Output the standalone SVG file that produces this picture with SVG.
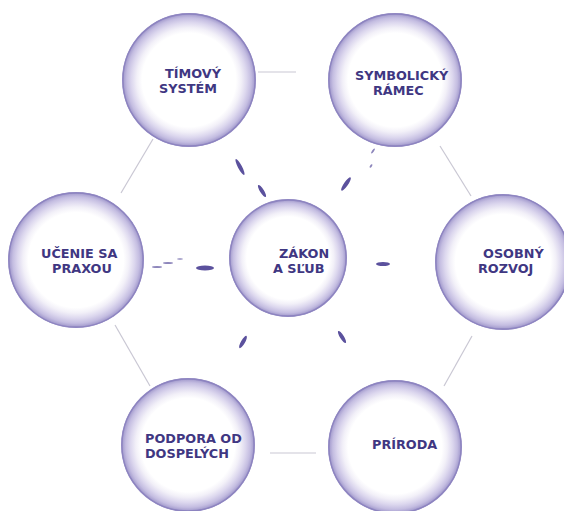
<svg xmlns="http://www.w3.org/2000/svg" width="564" height="511" viewBox="0 0 564 511">
<defs>
<radialGradient id="ring" cx="50%" cy="50%" r="50%">
<stop offset="0" stop-color="#ffffff"/>
<stop offset="0.7" stop-color="#ffffff"/>
<stop offset="0.78" stop-color="#f2f0f8"/>
<stop offset="0.86" stop-color="#dcd7ee"/>
<stop offset="0.93" stop-color="#c4bde1"/>
<stop offset="0.975" stop-color="#a8a0d0"/>
<stop offset="1" stop-color="#968dc5"/>
</radialGradient>
<style>
.ring{fill:url(#ring)}
.edge{fill:none;stroke:#8d84c0;stroke-width:1.3}
.lbl{font-family:"DejaVu Sans","Verdana",sans-serif;font-weight:bold;font-size:12.8px;fill:#3f3782}
.link{stroke:#c9c7d3;stroke-width:1.2;fill:none}
.dash{fill:#5b519d}
.spk{fill:#8d86bb}
</style>
</defs>
<rect width="564" height="511" fill="#ffffff"/>
<g id="connectors">
<line class="link" x1="258" y1="72" x2="296" y2="72"/>
<line class="link" x1="440" y1="146" x2="471" y2="196"/>
<line class="link" x1="472" y1="336" x2="444" y2="386"/>
<line class="link" x1="270" y1="453" x2="316" y2="453"/>
<line class="link" x1="115" y1="325" x2="150" y2="386"/>
<line class="link" x1="121" y1="193" x2="153" y2="139"/>
<ellipse class="dash" cx="240" cy="167" rx="2" ry="9" transform="rotate(-28 240 167)"/>
<ellipse class="dash" cx="262" cy="191" rx="2" ry="7" transform="rotate(-32 262 191)"/>
<ellipse class="dash" cx="346" cy="184" rx="2" ry="8" transform="rotate(35 346 184)"/>
<ellipse class="spk" cx="373" cy="151" rx="1" ry="3" transform="rotate(35 373 151)"/>
<ellipse class="spk" cx="371" cy="166" rx="1" ry="2" transform="rotate(35 371 166)"/>
<ellipse class="dash" cx="205" cy="268" rx="9" ry="2.5"/>
<ellipse class="spk" cx="168" cy="263" rx="5" ry="1"/>
<ellipse class="spk" cx="157" cy="267" rx="5" ry="1"/>
<ellipse class="spk" cx="180" cy="259" rx="3" ry="0.8"/>
<ellipse class="dash" cx="383" cy="264" rx="7" ry="2"/>
<ellipse class="dash" cx="243" cy="342" rx="2" ry="7" transform="rotate(30 243 342)"/>
<ellipse class="dash" cx="342" cy="337" rx="2" ry="7" transform="rotate(-32 342 337)"/>
</g>
<g id="node-timovy">
<circle class="ring" cx="189" cy="80" r="67"/>
<circle class="edge" cx="189" cy="80" r="66"/>
<text class="lbl" x="165" y="78">TÍMOVÝ</text>
<text class="lbl" x="159" y="93">SYSTÉM</text>
</g>
<g id="node-symbolicky">
<circle class="ring" cx="395" cy="80" r="67"/>
<circle class="edge" cx="395" cy="80" r="66"/>
<text class="lbl" x="355" y="80">SYMBOLICKÝ</text>
<text class="lbl" x="373" y="95">RÁMEC</text>
</g>
<g id="node-ucenie">
<circle class="ring" cx="76" cy="260" r="68"/>
<circle class="edge" cx="76" cy="260" r="67"/>
<text class="lbl" x="41" y="258">UČENIE SA</text>
<text class="lbl" x="52" y="273">PRAXOU</text>
</g>
<g id="node-zakon">
<circle class="ring" cx="288" cy="258" r="59"/>
<circle class="edge" cx="288" cy="258" r="58"/>
<text class="lbl" x="279" y="258">ZÁKON</text>
<text class="lbl" x="273" y="273">A SĽUB</text>
</g>
<g id="node-osobny">
<circle class="ring" cx="503" cy="262" r="68"/>
<circle class="edge" cx="503" cy="262" r="67"/>
<text class="lbl" x="483" y="258">OSOBNÝ</text>
<text class="lbl" x="478" y="273">ROZVOJ</text>
</g>
<g id="node-podpora">
<circle class="ring" cx="188" cy="445" r="67"/>
<circle class="edge" cx="188" cy="445" r="66"/>
<text class="lbl" x="145" y="443">PODPORA OD</text>
<text class="lbl" x="145" y="458">DOSPELÝCH</text>
</g>
<g id="node-priroda">
<circle class="ring" cx="395" cy="447" r="67"/>
<circle class="edge" cx="395" cy="447" r="66"/>
<text class="lbl" x="372" y="449">PRÍRODA</text>
</g>
</svg>
